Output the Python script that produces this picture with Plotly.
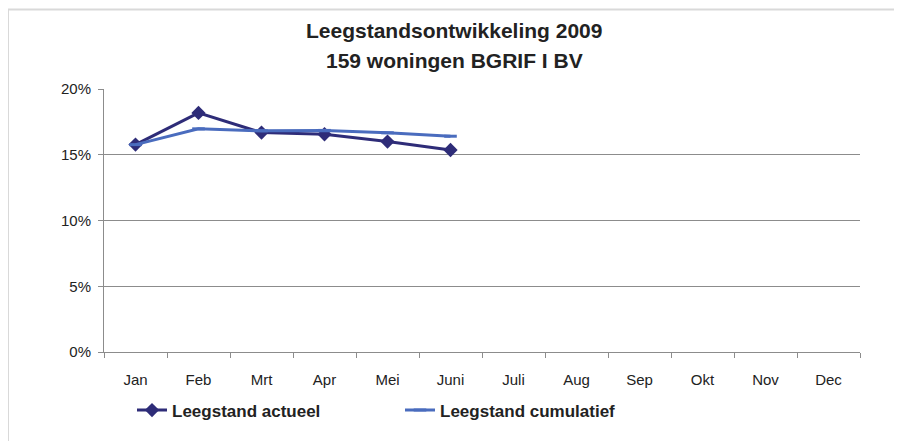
import plotly.graph_objects as go

months = ["Jan", "Feb", "Mrt", "Apr", "Mei", "Juni", "Juli", "Aug", "Sep", "Okt", "Nov", "Dec"]
actueel = [0.1577, 0.1818, 0.1669, 0.1656, 0.1600, 0.1536]
cumulatief = [0.1577, 0.1697, 0.1682, 0.1685, 0.1667, 0.1641]
y_ticks = [0, 0.05, 0.10, 0.15, 0.20]

FONT = "Liberation Sans, Arial, sans-serif"

W, H = 894, 433
L, T, R, B = 96, 81, 42, 87
PW, PH = W - L - R, H - T - B


def px(xp):
    return (xp - L) / PW


def py(yp):
    return (H - B - yp) / PH


fig = go.Figure()
fig.add_trace(go.Scatter(
    x=months[:len(actueel)], y=actueel, name="Leegstand actueel",
    mode="lines+markers",
    line=dict(color="#2E2C78", width=3),
    marker=dict(symbol="diamond", size=11, color="#2E2C78"),
))
fig.add_trace(go.Scatter(
    x=months[:len(cumulatief)], y=cumulatief, name="Leegstand cumulatief",
    mode="lines+markers",
    line=dict(color="#4A6CBE", width=3),
    marker=dict(symbol="line-ew", size=9, color="#4A6CBE",
                line=dict(color="#4A6CBE", width=3)),
))

fig.update_layout(
    width=W, height=H,
    margin=dict(l=L, r=R, t=T, b=B),
    paper_bgcolor="white", plot_bgcolor="white",
    font=dict(family=FONT, color="#222222"),
    showlegend=True,
    legend=dict(
        orientation="h", x=px(124), y=py(405), xanchor="left", yanchor="middle",
        entrywidth=223, entrywidthmode="pixels",
        font=dict(family=FONT, size=17, color="#222222", weight="bold"),
        itemwidth=30, bgcolor="rgba(0,0,0,0)",
    ),
    xaxis=dict(
        type="category", categoryorder="array", categoryarray=months,
        range=[-0.5, 11.5], showgrid=False,
        showline=True, linecolor="#8c8c8c", linewidth=1,
        ticks="outside", tickson="boundaries", ticklen=5, tickcolor="#8c8c8c",
        ticklabelstandoff=14,
        tickfont=dict(family=FONT, size=15, color="#222222"),
        zeroline=False, fixedrange=True,
    ),
    yaxis=dict(
        range=[0, 0.2], tickvals=y_ticks, tickformat=".0%",
        showgrid=True, gridcolor="#8c8c8c", gridwidth=1,
        showline=True, linecolor="#8c8c8c", linewidth=1,
        ticks="outside", ticklen=5, tickcolor="#8c8c8c",
        ticklabelstandoff=4,
        tickfont=dict(family=FONT, size=15, color="#222222"),
        zeroline=False, fixedrange=True,
    ),
    annotations=[
        dict(text="<b>Leegstandsontwikkeling 2009</b>", xref="paper", yref="paper",
             x=px(446), y=py(22), xanchor="center", yanchor="middle",
             showarrow=False, font=dict(family=FONT, size=21, color="#222222")),
        dict(text="<b>159 woningen BGRIF I BV</b>", xref="paper", yref="paper",
             x=px(446), y=py(52), xanchor="center", yanchor="middle",
             showarrow=False, font=dict(family=FONT, size=21, color="#222222")),
    ],
    shapes=[
        dict(type="line", xref="paper", yref="paper",
             x0=px(0), x1=px(W + 20), y0=py(1), y1=py(1),
             line=dict(color="#d9d9d9", width=2)),
        dict(type="line", xref="paper", yref="paper",
             x0=px(0), x1=px(0), y0=py(H + 20), y1=py(1),
             line=dict(color="#d9d9d9", width=2)),
    ],
)

fig.write_html("out.html")
